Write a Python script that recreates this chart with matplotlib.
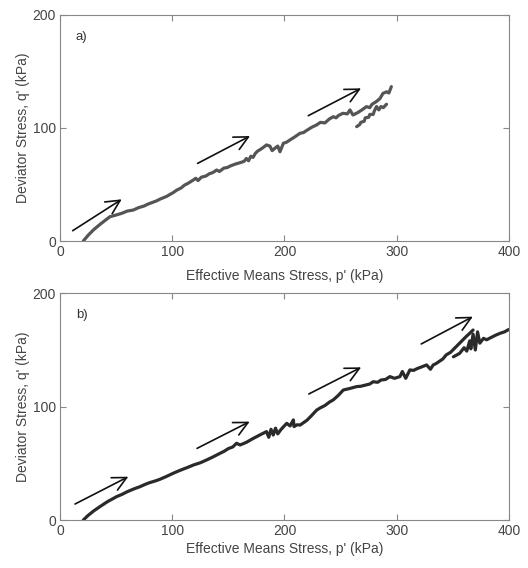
import matplotlib
matplotlib.use("Agg")
import matplotlib.pyplot as plt

plt.rcParams['font.family'] = ['Liberation Sans', 'DejaVu Sans']

# panel a) main stress path
a_p = [20.8, 25, 30, 36, 44.5, 50, 55, 60, 65.3, 70, 75, 78, 82, 86, 89, 95, 100.8, 104, 108,
       111, 114, 118.8, 121, 123, 126, 130, 133, 136, 139.6, 142, 146, 149, 152, 156, 160.4,
       164, 166, 168, 170, 172, 174, 176, 180, 184, 187, 189, 192, 194, 196, 199, 202, 205,
       209, 213.8, 217, 220, 224, 228.6, 232, 236, 240, 243.5, 246, 248, 252, 256, 258.3,
       261, 265, 269, 273, 276, 278, 282, 285, 287.8, 291, 293, 295.2]
a_q = [0, 5, 10, 15, 21.5, 23, 24.5, 26.5, 27.4, 29.5, 31, 32.5, 34, 35.5, 37, 39.5, 42.8, 45,
       47, 49.5, 51, 54, 55.5, 53.5, 56.5, 57.5, 59.5, 60.5, 62.8, 61.5, 64.5, 65, 66.5, 68,
       69.3, 70.5, 73, 71, 75, 74, 77.5, 79.5, 82, 85, 84, 80, 82.5, 84, 79, 86.5, 87.5, 89.5,
       92, 95.3, 96, 98, 100.5, 102.7, 105, 104.5, 108, 110, 109, 111, 113, 112.5, 116,
       111.5, 113.5, 116, 118.9, 118, 121, 123.5, 126, 130.7, 132, 131, 136.6]
# panel a) branch after unloading
a2_p = [264.3, 267, 268, 271, 272, 275, 276, 279, 280, 282, 284, 286, 288, 290.9]
a2_q = [101.2, 103, 105, 106, 109, 109.5, 112, 112, 115, 119, 116, 119, 118, 121]

# panel b) stress path
b_p = [20.8, 25, 30, 35.6, 42, 50.4, 55, 60, 66, 71.3, 76, 80, 85, 89, 95, 100.8, 105, 110,
       114, 118.8, 125, 130.7, 136, 142.5, 146, 150, 154, 157.3, 160.4, 166, 172.2, 178, 184,
       186, 188, 190, 192, 194, 197, 202, 205, 207.9, 208.5, 211, 214, 220, 224, 228.7, 232,
       236, 240, 243.5, 248, 252.4, 258, 264.3, 268, 272, 276, 279, 283, 286, 290, 293.9, 298,
       302.8, 305, 308, 311.7, 315, 318, 322, 326.6, 330, 332.5, 335, 338, 341, 344, 348, 353,
       358, 362, 365, 368]
b_q = [0, 4, 8, 11.8, 16, 20.6, 22.5, 25, 27.5, 29.4, 31.5, 33, 34.5, 35.9, 38.5, 41.2, 43, 45,
       46.5, 48.5, 50.5, 53, 55.5, 58.8, 60.5, 63, 64.5, 67.7, 66.2, 68.5, 72, 75, 78,
       73, 80, 75, 81, 76, 80, 85.3, 83, 88.3, 82.4, 84, 83.8, 88, 92, 97, 99, 101, 104,
       106, 110, 114.7, 116, 117.7, 118, 119, 120, 122, 121.5, 123.5, 124, 126.5, 125,
       126.5, 131, 125, 132.4, 132, 133.5, 135, 136.8, 133, 136.8, 138, 140, 142, 145.6,
       148, 153, 158, 162, 164.7, 167.6]
# panel b) branch after unloading
b2_p = [350.5, 356, 360, 362.4, 365, 366, 368, 370, 372, 374, 377.3, 380, 384, 388, 392, 396,
        399.6]
b2_q = [144, 147, 152, 149, 158, 151, 164, 150, 166, 156, 160.3, 159, 161, 163, 164.7, 166,
        168]

# arrows (tail p, tail q, head p, head q)
a_arrows = [(11.3, 9.1, 55, 36.9), (122.6, 68.7, 169.3, 92.9), (221.2, 110.9, 268.2, 135.1)]
b_arrows = [(13.4, 14.1, 60.9, 38.2), (122.1, 63.2, 169, 86.8),
            (221.7, 111.2, 268.3, 134.7), (321.8, 155.3, 367.8, 179.4)]

fig = plt.figure(figsize=(5.28, 5.68), dpi=100)
ax1 = fig.add_axes([0.1136, 0.5757, 0.8504, 0.3979])
ax2 = fig.add_axes([0.1136, 0.0845, 0.8504, 0.3991])

def setup(ax, label, paths, arrows, col, lpad):
    for p, q in paths:
        ax.plot(p, q, color=col, lw=2.3, solid_capstyle='round', solid_joinstyle='round')
    for tp, tq, hp, hq in arrows:
        ax.annotate('', xy=(hp, hq), xytext=(tp, tq),
                    arrowprops=dict(arrowstyle='->, head_length=1.0, head_width=0.5',
                                    color='#111111', lw=1.2, shrinkA=0, shrinkB=0))
    ax.set_xlim(0, 400)
    ax.set_ylim(0, 200)
    ax.set_xticks([0, 100, 200, 300, 400])
    ax.set_yticks([0, 100, 200])
    ax.tick_params(direction='in', top=True, right=True, length=4, width=0.8,
                   colors='#888888', labelcolor='#444444', labelsize=10, pad=3)
    for s in ax.spines.values():
        s.set_color('#888888')
        s.set_linewidth(0.8)
    ax.set_xlabel("Effective Means Stress, p' (kPa)", fontsize=10, color='#444444',
                  labelpad=lpad)
    ax.set_ylabel("Deviator Stress, q' (kPa)", fontsize=10, color='#444444', labelpad=2)
    ax.text(0.035, 0.93, label, transform=ax.transAxes, fontsize=9.5, color='#333333',
            va='top')

setup(ax1, 'a)', [(a_p, a_q), (a2_p, a2_q)], a_arrows, '#555555', 7)
setup(ax2, 'b)', [(b_p, b_q), (b2_p, b2_q)], b_arrows, '#2a2a2a', 3)

fig.savefig('out.png', dpi=100)
